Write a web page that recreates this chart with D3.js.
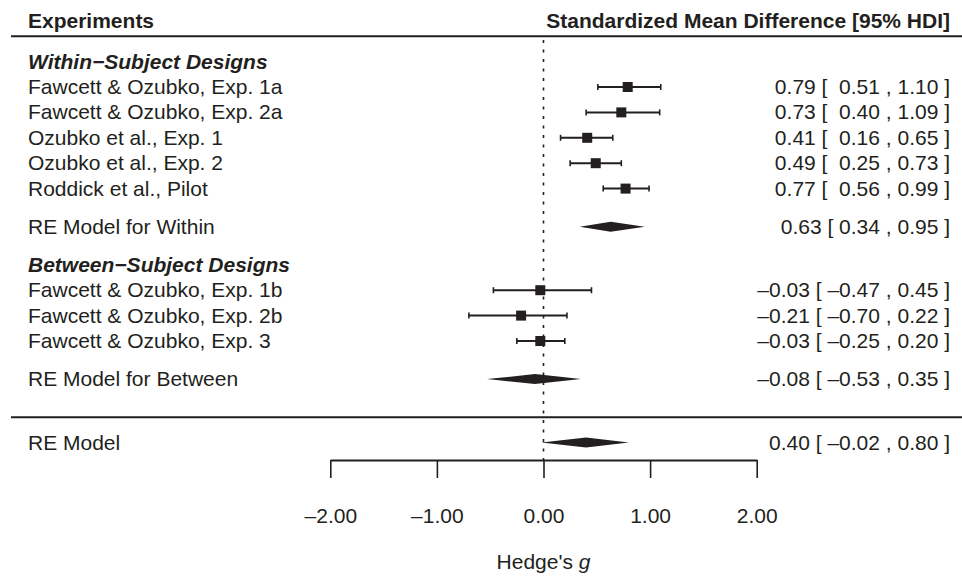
<!DOCTYPE html>
<html>
<head>
<meta charset="utf-8">
<script src="https://cdnjs.cloudflare.com/ajax/libs/d3/7.8.5/d3.min.js"></script>
<style>
  body { margin: 0; background: #fff; }
  svg text { font-family: "Liberation Sans", Arial, Helvetica, sans-serif; fill: #231f20; white-space: pre; }
</style>
</head>
<body>
<div id="main_plot"></div>
<script>
// study rows
var studyLabels = ["Fawcett & Ozubko, Exp. 1a", "Fawcett & Ozubko, Exp. 2a", "Ozubko et al., Exp. 1",
                   "Ozubko et al., Exp. 2", "Roddick et al., Pilot",
                   "Fawcett & Ozubko, Exp. 1b", "Fawcett & Ozubko, Exp. 2b", "Fawcett & Ozubko, Exp. 3"];
var studyRows = [0, 1, 2, 3, 4, 8, 9, 10];
var studyEst  = [0.79, 0.73, 0.41, 0.49, 0.77, -0.03, -0.21, -0.03];
var studyLow  = [0.51, 0.40, 0.16, 0.25, 0.56, -0.47, -0.70, -0.25];
var studyHigh = [1.10, 1.09, 0.65, 0.73, 0.99, 0.45, 0.22, 0.20];

// summary (RE model) rows
var summaryLabels = ["RE Model for Within", "RE Model for Between", "RE Model"];
var summaryRows = [5.5, 11.5, 14];
var summaryEst  = [0.63, -0.08, 0.40];
var summaryLow  = [0.34, -0.53, -0.02];
var summaryHigh = [0.95, 0.35, 0.80];

// group headings
var groupLabels = ["Within\u2212Subject Designs", "Between\u2212Subject Designs"];
var groupRows = [-1, 7];

// separator lines and axis ticks
var lineRows = [-2, 13];
var tickValues = [-2, -1, 0, 1, 2];

var width = 962, height = 576;

var svg = d3.select("div#main_plot")
  .append("svg")
  .attr("width", width)
  .attr("height", height);

var x = d3.scaleLinear().domain([-2, 2]).range([330.3, 756.7]);
var y = d3.scaleLinear().domain([0, 14]).range([87, 442.6]);

var ink = "#231f20";
var fontSize = 21;
var labelX = 28, annotX = 950;
var axisY = 460;

// number formatting like metafor: en dash for minus, padded for study rows
function fmt(v) {
  var s = Math.abs(v).toFixed(2);
  return v < 0 ? "\u2013" + s : s;
}
function pad(s, w) {
  while (s.length < w) s = " " + s;
  return s;
}
function maxLen(arr) { return d3.max(arr, function(v) { return fmt(v).length; }); }
var wEst = maxLen(studyEst), wLow = maxLen(studyLow), wHigh = maxLen(studyHigh);

// header
svg.append("text")
  .attr("x", labelX).attr("y", 28.3)
  .attr("font-size", fontSize).attr("font-weight", "bold")
  .text("Experiments");
svg.append("text")
  .attr("x", annotX).attr("y", 28.3)
  .attr("text-anchor", "end")
  .attr("font-size", fontSize).attr("font-weight", "bold")
  .text("Standardized Mean Difference [95% HDI]");

// horizontal separator lines
svg.selectAll(".sep")
  .data(lineRows)
  .enter().append("line")
    .attr("class", "sep")
    .attr("x1", 11).attr("x2", width)
    .attr("y1", function(d) { return y(d); })
    .attr("y2", function(d) { return y(d); })
    .attr("stroke", ink).attr("stroke-width", 2);

// reference line at zero
svg.append("line")
  .attr("x1", x(0)).attr("x2", x(0))
  .attr("y1", 40).attr("y2", axisY)
  .attr("stroke", ink).attr("stroke-width", 1.6)
  .attr("stroke-dasharray", "3,6.5");

// group headings
svg.selectAll(".group")
  .data(groupLabels)
  .enter().append("text")
    .attr("class", "group")
    .attr("x", labelX)
    .attr("y", function(d, i) { return y(groupRows[i]) + 7; })
    .attr("font-size", fontSize)
    .attr("font-weight", "bold")
    .attr("font-style", "italic")
    .text(function(d) { return d; });

// study labels
svg.selectAll(".slabel")
  .data(studyLabels)
  .enter().append("text")
    .attr("class", "slabel")
    .attr("x", labelX)
    .attr("y", function(d, i) { return y(studyRows[i]) + 7; })
    .attr("font-size", fontSize)
    .text(function(d) { return d; });

// study CIs
var ci = svg.selectAll(".ci")
  .data(studyLabels)
  .enter().append("g")
    .attr("class", "ci")
    .attr("transform", function(d, i) { return "translate(0," + y(studyRows[i]) + ")"; });

ci.append("line")
  .attr("x1", function(d, i) { return x(studyLow[i]); })
  .attr("x2", function(d, i) { return x(studyHigh[i]); })
  .attr("stroke", ink).attr("stroke-width", 2);
ci.append("line")
  .attr("x1", function(d, i) { return x(studyLow[i]); })
  .attr("x2", function(d, i) { return x(studyLow[i]); })
  .attr("y1", -3).attr("y2", 3)
  .attr("stroke", ink).attr("stroke-width", 1.6);
ci.append("line")
  .attr("x1", function(d, i) { return x(studyHigh[i]); })
  .attr("x2", function(d, i) { return x(studyHigh[i]); })
  .attr("y1", -3).attr("y2", 3)
  .attr("stroke", ink).attr("stroke-width", 1.6);
ci.append("rect")
  .attr("x", function(d, i) { return x(studyEst[i]) - 5; })
  .attr("y", -5)
  .attr("width", 10).attr("height", 10)
  .attr("fill", ink);

// study annotations
svg.selectAll(".sannot")
  .data(studyLabels)
  .enter().append("text")
    .attr("class", "sannot")
    .attr("x", annotX)
    .attr("y", function(d, i) { return y(studyRows[i]) + 7; })
    .attr("text-anchor", "end")
    .attr("font-size", fontSize)
    .text(function(d, i) {
      return pad(fmt(studyEst[i]), wEst) + " [ " + pad(fmt(studyLow[i]), wLow) +
             " , " + pad(fmt(studyHigh[i]), wHigh) + " ]";
    });

// summary labels
svg.selectAll(".rlabel")
  .data(summaryLabels)
  .enter().append("text")
    .attr("class", "rlabel")
    .attr("x", labelX)
    .attr("y", function(d, i) { return y(summaryRows[i]) + 7; })
    .attr("font-size", fontSize)
    .text(function(d) { return d; });

// summary diamonds
svg.selectAll(".diamond")
  .data(summaryLabels)
  .enter().append("path")
    .attr("class", "diamond")
    .attr("fill", ink)
    .attr("d", function(d, i) {
      var yy = y(summaryRows[i]);
      return "M" + x(summaryLow[i]) + "," + yy +
             "L" + x(summaryEst[i]) + "," + (yy - 5) +
             "L" + x(summaryHigh[i]) + "," + yy +
             "L" + x(summaryEst[i]) + "," + (yy + 5) + "Z";
    });

// summary annotations
svg.selectAll(".rannot")
  .data(summaryLabels)
  .enter().append("text")
    .attr("class", "rannot")
    .attr("x", annotX)
    .attr("y", function(d, i) { return y(summaryRows[i]) + 7; })
    .attr("text-anchor", "end")
    .attr("font-size", fontSize)
    .text(function(d, i) {
      return fmt(summaryEst[i]) + " [ " + fmt(summaryLow[i]) + " , " + fmt(summaryHigh[i]) + " ]";
    });

// x axis
var axis = svg.append("g")
  .attr("transform", "translate(0," + axisY + ")")
  .call(d3.axisBottom(x)
    .tickValues(tickValues)
    .tickSize(18)
    .tickSizeOuter(0)
    .tickFormat(fmt));
axis.select(".domain").attr("stroke", ink).attr("stroke-width", 1.8);
axis.selectAll(".tick line").attr("stroke", ink).attr("stroke-width", 1.6);
axis.selectAll(".tick text")
  .attr("y", 63).attr("dy", null)
  .attr("font-size", fontSize)
  .attr("font-family", null)
  .attr("fill", ink);

// axis title
var xt = svg.append("text")
  .attr("x", x(0)).attr("y", 569)
  .attr("text-anchor", "middle")
  .attr("font-size", fontSize);
xt.append("tspan").text("Hedge's ");
xt.append("tspan").attr("font-style", "italic").text("g");
</script>
</body>
</html>
